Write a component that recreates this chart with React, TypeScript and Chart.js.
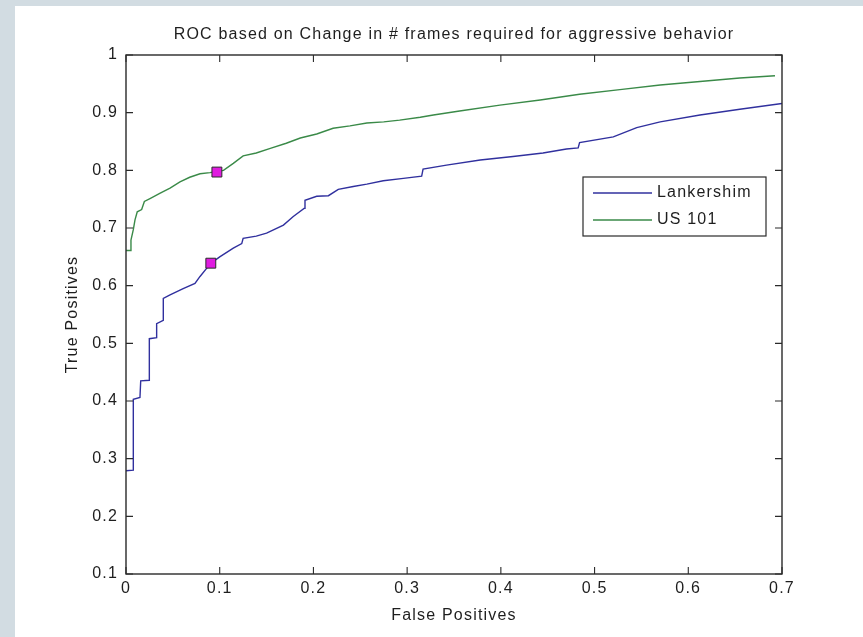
import { useEffect, useRef } from 'react';
import { Chart, registerables } from 'chart.js';

Chart.register(...registerables);

// ---- Data ----
const lankershimFP = [
  0, 0.0078, 0.0078, 0.0149, 0.0157, 0.0249, 0.0249, 0.0327, 0.0327, 0.0398, 0.0398,
  0.047, 0.061, 0.0736, 0.079, 0.086, 0.0907, 0.1, 0.1145, 0.1235, 0.125, 0.139, 0.15,
  0.168, 0.1785, 0.19, 0.191, 0.2035, 0.216, 0.2265, 0.2425, 0.257, 0.2745, 0.296,
  0.3155, 0.317, 0.342, 0.378, 0.413, 0.445, 0.47, 0.4825, 0.484, 0.52, 0.545, 0.57,
  0.6125, 0.655, 0.7,
];
const lankershimTP = [
  0.279, 0.28, 0.403, 0.406, 0.435, 0.436, 0.508, 0.51, 0.534, 0.54, 0.578,
  0.584, 0.595, 0.604, 0.616, 0.63, 0.639, 0.65, 0.665, 0.673, 0.682, 0.686, 0.691,
  0.705, 0.72, 0.734, 0.748, 0.755, 0.756, 0.767, 0.772, 0.776, 0.782, 0.786,
  0.79, 0.802, 0.809, 0.818, 0.824, 0.83, 0.837, 0.839, 0.848, 0.858, 0.874, 0.884,
  0.896, 0.906, 0.916,
];
const us101FP = [
  0, 0.0053, 0.0053, 0.0078, 0.0096, 0.012, 0.0167, 0.0196, 0.0256, 0.036, 0.047,
  0.0576, 0.068, 0.079, 0.0896, 0.104, 0.1145, 0.125, 0.139, 0.154, 0.171, 0.186,
  0.2035, 0.221, 0.239, 0.257, 0.275, 0.292, 0.314, 0.328, 0.356, 0.399, 0.442,
  0.484, 0.527, 0.57, 0.6125, 0.655, 0.6925,
];
const us101TP = [
  0.661, 0.661, 0.679, 0.697, 0.714, 0.728, 0.732, 0.746, 0.751, 0.76, 0.769,
  0.78, 0.788, 0.794, 0.796, 0.8, 0.812, 0.825, 0.83, 0.838, 0.847, 0.856,
  0.863, 0.873, 0.877, 0.882, 0.884, 0.887, 0.892, 0.896, 0.903, 0.913, 0.922,
  0.932, 0.94, 0.948, 0.954, 0.96, 0.964,
];
const operatingPointFP = [0.0905, 0.097];
const operatingPointTP = [0.639, 0.797];

const seriesNames = ['Lankershim', 'US 101'];
const seriesColors = ['#30309e', '#3a8a48'];

const xTicks = [0, 0.1, 0.2, 0.3, 0.4, 0.5, 0.6, 0.7];
const xTickLabels = ['0', '0.1', '0.2', '0.3', '0.4', '0.5', '0.6', '0.7'];
const yTicks = [0.1, 0.2, 0.3, 0.4, 0.5, 0.6, 0.7, 0.8, 0.9, 1];
const yTickLabels = ['0.1', '0.2', '0.3', '0.4', '0.5', '0.6', '0.7', '0.8', '0.9', '1'];

const titleText = 'ROC based on Change in # frames required for aggressive behavior';
const xAxisLabel = 'False Positives';
const yAxisLabel = 'True Positives';

const FONT = "'Liberation Sans', Arial, Helvetica, sans-serif";
const TEXT_COLOR = '#1e1e1e';
const AXIS_COLOR = '#2a2a2a';

const backgroundPlugin = {
  id: 'figureBackground',
  beforeDraw(chart: any) {
    const { ctx, width, height } = chart;
    ctx.save();
    ctx.fillStyle = '#d2dce2';
    ctx.fillRect(0, 0, width, height);
    ctx.fillStyle = '#ffffff';
    ctx.fillRect(15, 6, width - 15, height - 6);
    ctx.restore();
    ctx.letterSpacing = '1.2px';
  },
};

const boxAndLegendPlugin = {
  id: 'boxAndLegend',
  afterDraw(chart: any) {
    const { ctx, chartArea } = chart;
    const { left, right, top, bottom } = chartArea;
    const xs = chart.scales.x;
    const ys = chart.scales.y;
    const tick = 7;
    ctx.save();
    ctx.strokeStyle = AXIS_COLOR;
    ctx.lineWidth = 1.4;
    ctx.strokeRect(left, top, right - left, bottom - top);
    ctx.lineWidth = 1.1;
    ctx.beginPath();
    xTicks.forEach((v) => {
      const px = xs.getPixelForValue(v);
      ctx.moveTo(px, bottom);
      ctx.lineTo(px, bottom - tick);
      ctx.moveTo(px, top);
      ctx.lineTo(px, top + tick);
    });
    yTicks.forEach((v) => {
      const py = ys.getPixelForValue(v);
      ctx.moveTo(left, py);
      ctx.lineTo(left + tick, py);
      ctx.moveTo(right, py);
      ctx.lineTo(right - tick, py);
    });
    ctx.stroke();

    // legend (inside the axes, MATLAB style)
    const lw = 183;
    const lh = 59;
    const lx = right - 16 - lw;
    const ly = top + 122;
    ctx.fillStyle = '#ffffff';
    ctx.fillRect(lx, ly, lw, lh);
    ctx.lineWidth = 1.2;
    ctx.strokeStyle = AXIS_COLOR;
    ctx.strokeRect(lx, ly, lw, lh);
    ctx.font = `16px ${FONT}`;
    ctx.textBaseline = 'middle';
    ctx.textAlign = 'left';
    ctx.letterSpacing = '1.2px';
    seriesNames.forEach((name, i) => {
      const ry = ly + 16 + i * 27;
      ctx.strokeStyle = seriesColors[i];
      ctx.lineWidth = 1.4;
      ctx.beginPath();
      ctx.moveTo(lx + 10, ry);
      ctx.lineTo(lx + 69, ry);
      ctx.stroke();
      ctx.fillStyle = TEXT_COLOR;
      ctx.fillText(name, lx + 74, ry);
    });
    ctx.restore();
  },
};

export default function App() {
  const canvasRef = useRef<HTMLCanvasElement | null>(null);

  useEffect(() => {
    if (!canvasRef.current) return;
    const chart = new Chart(canvasRef.current, {
      type: 'line',
      data: {
        datasets: [
          {
            label: 'Operating point',
            data: operatingPointFP.map((x, i) => ({ x, y: operatingPointTP[i] })),
            showLine: false,
            pointStyle: 'rect',
            pointRadius: 7,
            pointBackgroundColor: '#e01ce0',
            pointBorderColor: '#2a2a2a',
            pointBorderWidth: 1,
            borderColor: '#2a2a2a',
            backgroundColor: '#e01ce0',
          },
          {
            label: seriesNames[0],
            data: lankershimFP.map((x, i) => ({ x, y: lankershimTP[i] })),
            borderColor: seriesColors[0],
            backgroundColor: seriesColors[0],
            borderWidth: 1.4,
            pointRadius: 0,
            tension: 0,
            fill: false,
          },
          {
            label: seriesNames[1],
            data: us101FP.map((x, i) => ({ x, y: us101TP[i] })),
            borderColor: seriesColors[1],
            backgroundColor: seriesColors[1],
            borderWidth: 1.4,
            pointRadius: 0,
            tension: 0,
            fill: false,
          },
        ],
      },
      options: {
        animation: false,
        responsive: false,
        events: [],
        layout: { padding: { left: 0, right: 81, top: 6, bottom: 0 } },
        plugins: {
          legend: { display: false },
          tooltip: { enabled: false },
          title: {
            display: true,
            text: titleText,
            fullSize: false,
            color: TEXT_COLOR,
            font: { family: FONT, size: 16, weight: 'normal', lineHeight: 1.2 },
            padding: { top: 19, bottom: 10.8 },
          },
        },
        scales: {
          x: {
            type: 'linear',
            min: 0,
            max: 0.7,
            afterBuildTicks: (scale: any) => {
              scale.ticks = xTicks.map((v) => ({ value: v }));
            },
            afterFit: (scale: any) => {
              scale.height = 63;
            },
            grid: { display: false, drawTicks: false, tickLength: 0 },
            border: { display: false },
            ticks: {
              color: TEXT_COLOR,
              padding: 5,
              maxRotation: 0,
              autoSkip: false,
              font: { family: FONT, size: 16, lineHeight: 1.2 },
              callback: (_v: any, i: number) => xTickLabels[i],
            },
            title: {
              display: true,
              text: xAxisLabel,
              color: TEXT_COLOR,
              font: { family: FONT, size: 16, lineHeight: 1.2 },
              padding: { top: 0, bottom: 11.4 },
            },
          },
          y: {
            type: 'linear',
            min: 0.1,
            max: 1,
            afterBuildTicks: (scale: any) => {
              scale.ticks = yTicks.map((v) => ({ value: v }));
            },
            afterFit: (scale: any) => {
              scale.width = 126;
            },
            grid: { display: false, drawTicks: false, tickLength: 0 },
            border: { display: false },
            ticks: {
              color: TEXT_COLOR,
              padding: 8,
              autoSkip: false,
              font: { family: FONT, size: 16, lineHeight: 1.2 },
              callback: (_v: any, i: number) => yTickLabels[i],
            },
            title: {
              display: true,
              text: yAxisLabel,
              color: TEXT_COLOR,
              font: { family: FONT, size: 16, lineHeight: 1.2 },
              padding: { top: 63.4, bottom: 0 },
            },
          },
        },
      },
      plugins: [backgroundPlugin, boxAndLegendPlugin],
    } as any);
    return () => chart.destroy();
  }, []);

  return (
    <div style={{ position: 'fixed', left: 0, top: 0, width: 863, height: 637 }}>
      <canvas ref={canvasRef} width={863} height={637} style={{ display: 'block' }} />
    </div>
  );
}
